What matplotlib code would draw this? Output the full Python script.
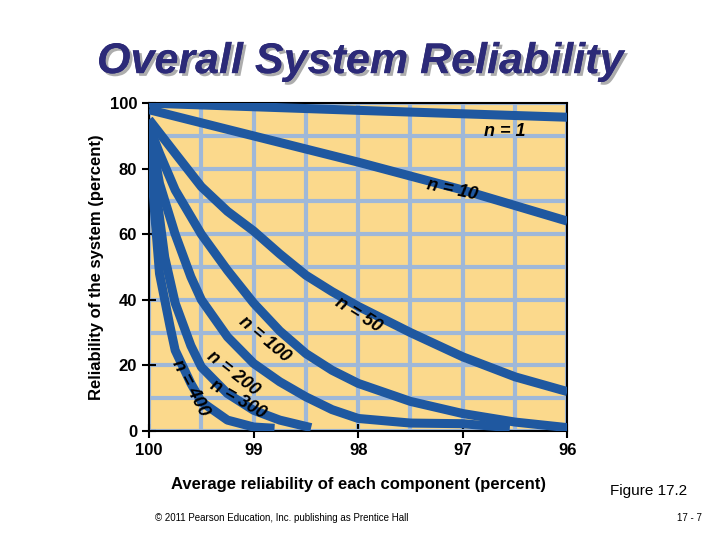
import matplotlib.pyplot as plt
import matplotlib.patheffects as pe

plt.rcParams['font.family'] = ['Liberation Sans', 'DejaVu Sans']

# curve data (x = component reliability %, y = system reliability %)
n1_x = [100, 98, 96]
n1_y = [100, 97.8, 95.7]
n10_x = [100, 99, 98, 97, 96]
n10_y = [98, 90, 82, 73.5, 64]
n50_x = [100, 99.75, 99.5, 99.25, 99, 98.75, 98.5, 98.25, 98, 97.5, 97, 96.5, 96]
n50_y = [95, 84.7, 74.5, 67, 61, 54, 47.5, 42.5, 38, 30, 22.6, 16.5, 12]
n100_x = [100, 99.9, 99.75, 99.5, 99.25, 99, 98.75, 98.5, 98.25, 98, 97.5, 97, 96.5, 96]
n100_y = [93, 84.7, 73.5, 60, 49, 39, 30.5, 23.6, 18.5, 14.5, 9, 5.3, 2.7, 1]
n200_x = [100, 99.9, 99.75, 99.6, 99.5, 99.25, 99, 98.75, 98.5, 98.25, 98, 97.5, 97, 96.55]
n200_y = [93, 75.5, 60, 47, 40, 28.7, 20.6, 15, 10.4, 6.5, 3.8, 2.4, 2.2, 1]
n300_x = [100, 99.92, 99.85, 99.75, 99.6, 99.5, 99.25, 99, 98.75, 98.45]
n300_y = [92, 70, 53, 39, 26, 19.5, 11.4, 6.3, 3.3, 1]
n400_x = [100, 99.95, 99.9, 99.8, 99.75, 99.6, 99.5, 99.25, 99.0, 98.8]
n400_y = [92, 68, 48, 32, 24.6, 14.5, 8.9, 3.3, 1.2, 0.8]

x_ticks = [100, 99, 98, 97, 96]
y_ticks = [0, 20, 40, 60, 80, 100]

curves = [(n1_x, n1_y), (n10_x, n10_y), (n50_x, n50_y), (n100_x, n100_y),
          (n200_x, n200_y), (n300_x, n300_y), (n400_x, n400_y)]
labels = [("n = 1", 96.6, 91.5, 0), ("n = 10", 97.1, 73.5, -12),
          ("n = 50", 98.0, 35.5, -32), ("n = 100", 98.9, 28, -40),
          ("n = 200", 99.2, 17.5, -38), ("n = 300", 99.15, 9.5, -30),
          ("n = 400", 99.6, 13, -62)]

line_col = '#1f58a0'
fig = plt.figure(figsize=(7.2, 5.4), dpi=100)
ax = fig.add_axes([0.207, 0.202, 0.581, 0.607])
ax.set_facecolor('#fbd98c')
for x, y in curves:
    ax.plot(x, y, color=line_col, lw=6.5, solid_capstyle='butt',
            solid_joinstyle='round', zorder=3)
for txt, x, y, rot in labels:
    ax.text(x, y, txt, rotation=rot, fontsize=13, fontweight='bold', style='italic',
            ha='center', va='center', zorder=4)

ax.set_xlim(100, 96)
ax.set_ylim(0, 100)
ax.set_xticks(x_ticks)
ax.set_xticks([99.5, 98.5, 97.5, 96.5], minor=True)
ax.set_yticks(y_ticks)
ax.set_yticks([10, 30, 50, 70, 90], minor=True)
ax.grid(True, which='both', color='#9fb8d8', lw=3, zorder=1)
ax.tick_params(which='minor', length=0)
ax.tick_params(which='major', direction='inout', length=10, width=1.5, labelsize=12)
for lab in ax.get_xticklabels() + ax.get_yticklabels():
    lab.set_fontweight('bold')
for s in ax.spines.values():
    s.set_linewidth(1.5)

ax.set_xlabel('Average reliability of each component (percent)', fontsize=12,
              fontweight='bold', labelpad=14)
ax.set_ylabel('Reliability of the system (percent)', fontsize=12, fontweight='bold')

fig.text(0.5, 0.885, 'Overall System Reliability', ha='center', va='center',
         fontsize=31, fontweight='bold', style='italic', color='#2c2a78',
         path_effects=[pe.withSimplePatchShadow(offset=(2, -2), shadow_rgbFace='#999999', alpha=0.8),
                       pe.Normal()])
fig.text(0.955, 0.083, 'Figure 17.2', ha='right', fontsize=11)
fig.text(0.215, 0.035, '© 2011 Pearson Education, Inc. publishing as Prentice Hall', fontsize=7)
fig.text(0.975, 0.035, '17 - 7', ha='right', fontsize=7)

fig.savefig('out.png', dpi=100)
